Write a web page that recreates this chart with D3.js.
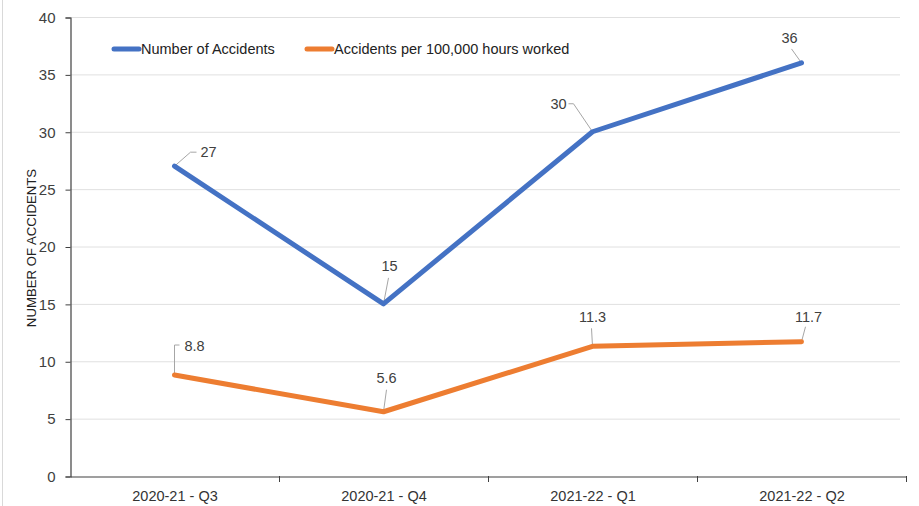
<!DOCTYPE html>
<html><head><meta charset="utf-8">
<script src="https://cdn.jsdelivr.net/npm/d3@7"></script>
<style>body{margin:0;background:#fff;}text{font-family:"Liberation Sans",Arial,sans-serif;}</style>
</head><body><svg id="c" width="919" height="506"></svg>
<script>
const categories = ["2020-21 - Q3","2020-21 - Q4","2021-22 - Q1","2021-22 - Q2"];
const accidents = [27,15,30,36];
const ratePer100k = [8.8,5.6,11.3,11.7];
const seriesNames = ["Number of Accidents","Accidents per 100,000 hours worked"];
const yTicks = [0,5,10,15,20,25,30,35,40];

// label layout: leader path offsets (dx,dy) relative to point, and label anchor
const accLabelLayout = [
  {pts:[[0,0],[16,-14],[22,-14]], tx:34, ty:-14},
  {pts:[[0,0],[5,-26]], tx:6, ty:-38},
  {pts:[[0,0],[-19,-28],[-24,-28]], tx:-34, ty:-28},
  {pts:[[0,0],[-10,-14]], tx:-12, ty:-25}
];
const rateLabelLayout = [
  {pts:[[0,0],[0,-30],[5,-30]], tx:20, ty:-29},
  {pts:[[0,0],[3,-22]], tx:3, ty:-34},
  {pts:[[0,0],[-1,-18]], tx:0, ty:-30},
  {pts:[[0,0],[4,-15]], tx:7, ty:-25}
];

const svg = d3.select("#c");
const m = {l:70, r:906, t:17, b:476};
const x = d3.scaleBand().domain(categories).range([m.l, m.r]);
const y = d3.scaleLinear().domain([0,40]).range([m.b, m.t]);

// outer border line
svg.append("line").attr("x1",2.5).attr("x2",2.5).attr("y1",0).attr("y2",506).attr("stroke","#d9d9d9");

// gridlines
svg.append("g").selectAll("line").data(yTicks.filter(d=>d>0)).join("line")
  .attr("x1",m.l).attr("x2",900).attr("y1",d=>y(d)+0.5).attr("y2",d=>y(d)+0.5)
  .attr("stroke","#e0e0e0").attr("stroke-width",1);

// axes
const yAxis = svg.append("g").attr("transform",`translate(${m.l+0.5},0.5)`)
  .call(d3.axisLeft(y).tickValues(yTicks).tickSize(5).tickPadding(10));
yAxis.select(".domain").attr("stroke","#404040").attr("stroke-width",1.2);
yAxis.selectAll(".tick line").attr("stroke","#404040");
yAxis.selectAll("text").attr("font-size",15).attr("fill","#404040");

const xAxis = svg.append("g").attr("transform",`translate(0.5,${m.b+0.5})`)
  .call(d3.axisBottom(x).tickSize(0).tickPadding(14));
xAxis.select(".domain").attr("stroke","#404040").attr("stroke-width",1.2);
xAxis.selectAll("text").attr("font-size",14.5).attr("fill","#333");
// boundary ticks
const bounds = categories.map(c=>x(c)).concat([m.r]);
svg.append("g").selectAll("line").data(bounds.slice(1)).join("line")
  .attr("x1",d=>d+0.5).attr("x2",d=>d+0.5).attr("y1",m.b).attr("y2",m.b+6)
  .attr("stroke","#404040");

// y label
svg.append("text").attr("transform","translate(35.5,248) rotate(-90)")
  .attr("text-anchor","middle").attr("font-size",13.2).attr("fill","#222")
  .text("NUMBER OF ACCIDENTS");

const cx = c => x(c) + x.bandwidth()/2;
const line = d3.line().x((d,i)=>cx(categories[i])).y(d=>y(d));
const colors = ["#4472C4","#ED7D31"];

function drawSeries(vals, color, layout){
  const g = svg.append("g");
  vals.forEach((v,i)=>{
    const px = cx(categories[i]), py = y(v);
    const L = layout[i];
    g.append("polyline").attr("points", L.pts.map(p=>[px+p[0],py+p[1]].join(",")).join(" "))
      .attr("fill","none").attr("stroke","#a6a6a6").attr("stroke-width",1);
  });
  svg.append("path").datum(vals).attr("d",line).attr("fill","none")
    .attr("stroke",color).attr("stroke-width",5).attr("stroke-linejoin","round").attr("stroke-linecap","round");
  vals.forEach((v,i)=>{
    const px = cx(categories[i]), py = y(v);
    const L = layout[i];
    svg.append("text").attr("x",px+L.tx).attr("y",py+L.ty).attr("dy","0.36em")
      .attr("text-anchor","middle").attr("font-size",14.5).attr("fill","#404040").text(v);
  });
}
drawSeries(ratePer100k, colors[1], rateLabelLayout);
drawSeries(accidents, colors[0], accLabelLayout);

// legend
const legX = [112, 305];
seriesNames.forEach((n,i)=>{
  svg.append("line").attr("x1",legX[i]+2).attr("x2",legX[i]+27).attr("y1",49).attr("y2",49)
    .attr("stroke",colors[i]).attr("stroke-width",5).attr("stroke-linecap","round");
  svg.append("text").attr("x",legX[i]+29).attr("y",49).attr("dy","0.36em")
    .attr("font-size",14.5).attr("fill","#222").text(n);
});
</script></body></html>
